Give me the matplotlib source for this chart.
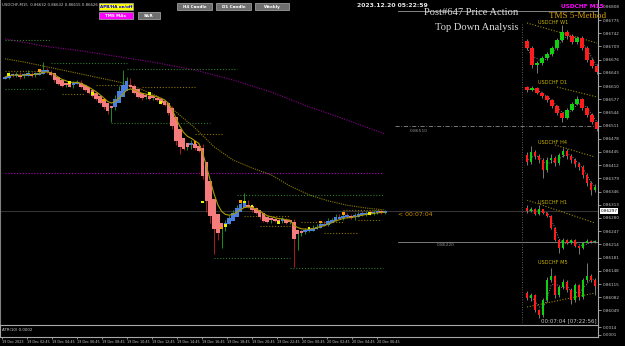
import numpy as np
import pandas as pd
import matplotlib
matplotlib.use("Agg")
import matplotlib.pyplot as plt
from matplotlib.patches import Rectangle
from matplotlib.lines import Line2D

W, H = 625, 346

# -------------------------------
# M15 main chart data (USDCHF)
# -------------------------------
first_open = 0.86630
closes = [0.86632, 0.86640, 0.86636, 0.86641, 0.86634, 0.86638, 0.86643, 0.86637, 0.86641, 0.86645,
          0.86652, 0.86648, 0.86638, 0.86627, 0.86617, 0.86612, 0.86615, 0.86610, 0.86618, 0.86620,
          0.86610, 0.86602, 0.86595, 0.86587, 0.86580, 0.86570, 0.86560, 0.86550, 0.86557, 0.86580,
          0.86600, 0.86615, 0.86625, 0.86610, 0.86595, 0.86585, 0.86582, 0.86585, 0.86580, 0.86582,
          0.86577, 0.86570, 0.86565, 0.86545, 0.86512, 0.86475, 0.86460, 0.86455, 0.86460, 0.86467,
          0.86457, 0.86450, 0.86387, 0.86325, 0.86287, 0.86255, 0.86245, 0.86255, 0.86270, 0.86282,
          0.86295, 0.86307, 0.86317, 0.86320, 0.86310, 0.86302, 0.86295, 0.86285, 0.86275, 0.86272,
          0.86277, 0.86275, 0.86272, 0.86277, 0.86270, 0.86272, 0.86230, 0.86242, 0.86245, 0.86250,
          0.86252, 0.86257, 0.86260, 0.86267, 0.86265, 0.86275, 0.86277, 0.86285, 0.86282, 0.86287,
          0.86285, 0.86282, 0.86287, 0.86292, 0.86290, 0.86295, 0.86292, 0.86295, 0.86297, 0.86295,
          0.86297]
# wick lengths in points (0.00001)
wick_up = [3, 4, 2, 5, 3, 4, 6, 3, 4, 5,
           18, 4, 3, 5, 4, 6, 3, 4, 5, 6,
           4, 3, 5, 4, 6, 3, 4, 5, 3, 8,
           10, 35, 8, 5, 4, 3, 6, 4, 3, 5,
           4, 6, 3, 5, 15, 8, 6, 4, 5, 7,
           4, 5, 15, 6, 4, 5, 3, 4, 6, 5,
           4, 5, 6, 23, 5, 4, 6, 3, 4, 5,
           4, 3, 5, 6, 4, 3, 5, 4, 6, 5,
           4, 5, 6, 4, 5, 6, 4, 5, 6, 4,
           5, 4, 6, 4, 5, 3, 4, 5, 4, 3,
           4]
wick_dn = [3, 5, 4, 3, 6, 4, 3, 5, 4, 3,
           4, 5, 3, 6, 4, 5, 4, 3, 5, 4,
           5, 4, 6, 5, 4, 6, 8, 10, 30, 6,
           4, 5, 3, 6, 5, 4, 6, 5, 4, 5,
           4, 6, 5, 8, 10, 12, 20, 6, 5, 7,
           6, 5, 10, 30, 20, 65, 20, 40, 8, 6,
           5, 4, 6, 5, 4, 6, 5, 8, 6, 5,
           4, 6, 5, 4, 6, 5, 72, 30, 8, 5,
           6, 5, 4, 6, 5, 4, 6, 5, 4, 6,
           5, 4, 6, 5, 4, 6, 5, 4, 5, 6,
           4]

# slow MA (every 5th candle) and long MA (every 10th candle)
slow_ma = [0.86678, 0.86670, 0.86660, 0.86650, 0.86640, 0.86630, 0.86620, 0.86605, 0.86585, 0.86545,
           0.86505, 0.86458, 0.86425, 0.86405, 0.86388, 0.86360, 0.86338, 0.86323, 0.86312, 0.86305,
           0.86300]
long_ma = [0.86728, 0.86710, 0.86698, 0.86683, 0.86668, 0.86650, 0.86625, 0.86595, 0.86558, 0.86525,
           0.86490]

# signal dots
sig_idx = [1, 9, 17, 23, 26, 38, 41, 50, 52, 57, 58, 62, 63, 65, 72, 80, 83, 89, 96]
sig_p = [0.86638, 0.86648, 0.86618, 0.86592, 0.86575, 0.86592, 0.86568, 0.86468, 0.86320, 0.86255,
         0.86262, 0.86322, 0.86320, 0.86310, 0.86268, 0.86255, 0.86270, 0.86292, 0.86292]
sig_kind = ["y", "o", "y", "y", "o", "y", "y", "o", "y", "o", "y", "o", "y", "y", "y", "y", "o", "o", "y"]

# support / resistance levels
lvl_price = [0.86725, 0.86667, 0.86652, 0.86602, 0.86517, 0.86338, 0.86180, 0.86155,
             0.86647, 0.86490, 0.86285, 0.86260, 0.86270, 0.86242, 0.86300, 0.86275, 0.86612, 0.86590, 0.86607,
             0.86392]
lvl_from = [0, 12, 32, 0, 28, 61, 55, 75, 0, 50, 63, 67, 78, 84, 89, 93, 24, 15, 36, 0]
lvl_to = [12, 32, 61, 10, 54, 99.5, 75, 99.5, 10, 57, 75, 75, 89, 93, 99, 99, 33, 21, 50, 99.5]
lvl_kind = ["g"] * 8 + ["o"] * 11 + ["m"]

price_ticks = np.round(0.86808 - 0.00033 * np.arange(24), 5)
time_labels = ["19 Dec 2023", "19 Dec 02:45", "19 Dec 04:45", "19 Dec 06:45", "19 Dec 08:45",
               "19 Dec 10:45", "19 Dec 12:45", "19 Dec 14:45", "19 Dec 16:45", "19 Dec 18:45",
               "19 Dec 20:45", "19 Dec 22:45", "20 Dec 00:45", "20 Dec 02:45", "20 Dec 04:45",
               "20 Dec 06:45"]

# -------------------------------
# multi-timeframe panels
# -------------------------------
w1_open0 = 0.8795
w1_c = [0.8760, 0.8675, 0.8685, 0.8710, 0.8730, 0.8760, 0.8800, 0.8840, 0.8820, 0.8790, 0.8810, 0.8760, 0.8700, 0.8670, 0.8640]
w1_h = [0.8805, 0.8768, 0.8695, 0.8718, 0.8742, 0.8770, 0.8812, 0.8875, 0.8850, 0.8828, 0.8822, 0.8818, 0.8768, 0.8710, 0.8678]
w1_l = [0.8750, 0.8660, 0.8635, 0.8675, 0.8700, 0.8722, 0.8752, 0.8792, 0.8805, 0.8780, 0.8782, 0.8752, 0.8690, 0.8660, 0.8630]

d1_open0 = 0.8714
d1_c = [0.8708, 0.8712, 0.8702, 0.8696, 0.8688, 0.8676, 0.8662, 0.8652, 0.8668, 0.8680, 0.8690, 0.8672, 0.8658, 0.8644, 0.8630]
d1_h = [0.8716, 0.8715, 0.8714, 0.8704, 0.8698, 0.8690, 0.8678, 0.8664, 0.8671, 0.8684, 0.8696, 0.8692, 0.8675, 0.8661, 0.8646]
d1_l = [0.8704, 0.8705, 0.8699, 0.8692, 0.8684, 0.8672, 0.8658, 0.8644, 0.8650, 0.8665, 0.8677, 0.8668, 0.8654, 0.8640, 0.8626]

h4_open0 = 0.8664
h4_c = [0.8657, 0.8667, 0.8663, 0.8659, 0.8649, 0.8659, 0.8661, 0.8656, 0.8664, 0.8668, 0.8663, 0.8659, 0.8655, 0.8652, 0.8644, 0.8636, 0.8629, 0.8632]
h4_h = [0.8667, 0.8673, 0.8669, 0.8665, 0.8661, 0.8662, 0.8665, 0.8663, 0.8666, 0.8671, 0.8670, 0.8665, 0.8661, 0.8657, 0.8654, 0.8646, 0.8638, 0.8635]
h4_l = [0.8654, 0.8655, 0.8660, 0.8656, 0.8641, 0.8647, 0.8656, 0.8653, 0.8654, 0.8662, 0.8660, 0.8656, 0.8652, 0.8649, 0.8641, 0.8633, 0.8624, 0.8627]

h1_open0 = 0.86475
h1_c = [0.86460, 0.86470, 0.86445, 0.86470, 0.86450, 0.86435, 0.86375, 0.86315, 0.86275, 0.86315, 0.86300, 0.86315, 0.86285, 0.86275, 0.86300, 0.86310, 0.86305, 0.86310]
h1_h = [0.86490, 0.86480, 0.86475, 0.86490, 0.86472, 0.86455, 0.86440, 0.86380, 0.86320, 0.86325, 0.86322, 0.86320, 0.86318, 0.86290, 0.86305, 0.86318, 0.86315, 0.86316]
h1_l = [0.86452, 0.86455, 0.86440, 0.86440, 0.86445, 0.86428, 0.86370, 0.86310, 0.86250, 0.86270, 0.86295, 0.86296, 0.86280, 0.86245, 0.86272, 0.86298, 0.86300, 0.86302]

m5_open0 = 0.86294
m5_c = [0.86284, 0.86290, 0.86260, 0.86250, 0.86280, 0.86320, 0.86328, 0.86290, 0.86306, 0.86316, 0.86300, 0.86280, 0.86310, 0.86286, 0.86320, 0.86328, 0.86320, 0.86308]
m5_h = [0.86298, 0.86294, 0.86292, 0.86262, 0.86284, 0.86326, 0.86344, 0.86330, 0.86310, 0.86322, 0.86320, 0.86304, 0.86314, 0.86312, 0.86324, 0.86354, 0.86332, 0.86324]
m5_l = [0.86280, 0.86278, 0.86256, 0.86244, 0.86246, 0.86276, 0.86316, 0.86284, 0.86286, 0.86302, 0.86296, 0.86272, 0.86276, 0.86280, 0.86282, 0.86316, 0.86316, 0.86290]

# MA end points per panel (candle index, value)
w1_ma = ([0, 14], [0.8885, 0.8785])
d1_ma = ([6, 14], [0.8714, 0.8694])
h4_ma = ([7, 17], [0.8674, 0.8662])
h1_ma = ([0, 17], [0.86515, 0.86400])
m5_ma = ([0, 17], [0.86266, 0.86294])

# -------------------------------
# layout helpers (pixels)
# -------------------------------
def fx(x):
    return x / W

def fy(y):
    return 1 - y / H

CANDLE_PX = 3.8
FIRST_PX = 5

fig = plt.figure(figsize=(W / 100, H / 100), dpi=100, facecolor="black")

def ftext(x, y, s, **kw):
    fig.text(fx(x), fy(y), s, **kw)

def button(x0, y0, x1, y1, label, face, tc):
    fig.patches.append(Rectangle((fx(x0), fy(y1)), (x1 - x0) / W, (y1 - y0) / H,
                                 transform=fig.transFigure, facecolor=face,
                                 edgecolor="#b0b0b0", lw=0.5))
    ftext((x0 + x1) / 2, (y0 + y1) / 2 + 0.3, label, ha="center", va="center",
          fontsize=3.0, weight="bold", color=tc)

# -------------------------------
# main M15 chart
# -------------------------------
ax = fig.add_axes([0, fy(325), fx(598), 325 / H])
ax.set_facecolor("black")
ax.set_xlim((0 - FIRST_PX) / CANDLE_PX, (598 - FIRST_PX) / CANDLE_PX)
ax.set_ylim(0.86825 - 0.000025 * 325, 0.86825)

c = np.array(closes)
bar_open = np.concatenate([[first_open], c[:-1]])
hi = np.maximum(bar_open, c) + np.array(wick_up) * 1e-5
lo = np.minimum(bar_open, c) - np.array(wick_dn) * 1e-5
# Heiken Ashi style open (smoothed)
ha_o = np.empty_like(c)
ha_o[0] = first_open
for i in range(1, len(c)):
    ha_o[i] = (ha_o[i - 1] + c[i - 1]) / 2
idx = np.arange(len(c))
up = c >= ha_o
bar_up = c >= bar_open

ax.vlines(idx, lo, hi, colors=np.where(bar_up, "#1f8f1f", "#b01a1a"), lw=0.7, zorder=2)
body_lo = np.minimum(ha_o, c)
body_h = np.maximum(np.abs(c - ha_o), 0.00005)
ax.bar(idx, body_h, bottom=body_lo - 0.000015, width=0.9,
       color=np.where(up, "#4a7fe0", "#f47c7c"), linewidth=0, zorder=3)

fast = pd.Series(closes).ewm(span=6).mean()
ax.plot(idx, fast, color="#a89a00", lw=0.8, zorder=4)
ax.plot(np.arange(0, 101, 5), slow_ma, color="#8c7c00", lw=0.8, ls=(0, (1, 1)), zorder=1)
ax.plot(np.arange(0, 101, 10), long_ma, color="#8a008a", lw=0.8, ls=(0, (1, 1.2)), zorder=1)

lvl_colors = {"g": "#2f7a2f", "o": "#8a7300", "m": "#b000c0"}
for p, a, b, k in zip(lvl_price, lvl_from, lvl_to, lvl_kind):
    ax.hlines(p, a, b, colors=lvl_colors[k], lw=0.8, linestyles=(0, (1, 1.6)), zorder=1)

sig_colors = {"y": "#e6f000", "o": "#ff9a00"}
ax.scatter(sig_idx, sig_p, c=[sig_colors[k] for k in sig_kind], marker="s", s=4,
           linewidths=0, zorder=6)

# current price line and right side lines
ax.axhline(closes[-1], color="#343434", lw=0.8, zorder=0)
ax.axhline(0.86510, xmin=395 / 598, xmax=1, color="#8a8a8a", lw=0.6, ls=(0, (5, 2, 1, 2)))
ax.axhline(0.86220, xmin=398 / 598, xmax=1, color="#7a7a7a", lw=0.7)

# price axis
ax.yaxis.tick_right()
ax.set_yticks(price_ticks)
ax.set_yticklabels([f"{t:.5f}" for t in price_ticks])
ax.tick_params(axis="y", colors="#c8c8c8", labelsize=3.0, length=2, width=0.5, pad=1.2)
ax.set_xticks([])
for s in ["top", "bottom"]:
    ax.spines[s].set_visible(False)
ax.spines["right"].set_color("#a8a8a8")
ax.spines["right"].set_linewidth(0.8)
ax.spines["left"].set_color("#808080")
ax.spines["left"].set_linewidth(0.8)
ax.text(1.004, closes[-1], f"{closes[-1]:.5f}", transform=ax.get_yaxis_transform(),
        fontsize=3.0, color="black", va="center", ha="left", clip_on=False, zorder=10,
        bbox=dict(facecolor="white", edgecolor="none", pad=0.6))

# -------------------------------
# ATR sub window + time axis
# -------------------------------
ax2 = fig.add_axes([0, fy(337), fx(598), 12 / H])
ax2.set_facecolor("black")
ax2.set_xlim(ax.get_xlim())
ax2.set_ylim(-0.0003, 0.0018)
ax2.yaxis.tick_right()
ax2.set_yticks([0.0014, 0.0001])
ax2.set_yticklabels(["0.0014", "0.0001"])
ax2.tick_params(axis="y", colors="#c8c8c8", labelsize=3.0, length=2, width=0.5, pad=1.2)
tick_pos = (2 + 25 * np.arange(len(time_labels)) - FIRST_PX) / CANDLE_PX
ax2.set_xticks(tick_pos)
ax2.set_xticklabels(time_labels, ha="left")
ax2.tick_params(axis="x", colors="#c8c8c8", labelsize=2.4, length=1.5, width=0.5, pad=1.0)
for s in ax2.spines.values():
    s.set_color("#a8a8a8")
    s.set_linewidth(0.8)
ax2.text(0.003, 0.62, "ATR(10) 0.0002", transform=ax2.transAxes, fontsize=2.8,
         color="#d0d0d0", va="center")

# -------------------------------
# multi timeframe panels on the right
# -------------------------------
panels = [
    ("USDCHF W1", w1_open0, w1_c, w1_h, w1_l, w1_ma, 20, 80, (0.8600, 0.8900), 5, 22),
    ("USDCHF D1", d1_open0, d1_c, d1_h, d1_l, d1_ma, 80, 140, (0.8608, 0.8728), 5, 82),
    ("USDCHF H4", h4_open0, h4_c, h4_h, h4_l, h4_ma, 140, 200, (0.8619, 0.8679), 4, 142),
    ("USDCHF H1", h1_open0, h1_c, h1_h, h1_l, h1_ma, 200, 258, (0.86225, 0.86515), 4, 202),
    ("USDCHF M5", m5_open0, m5_c, m5_h, m5_l, m5_ma, 260, 322, (0.86236, 0.86360), 4, 262),
]
for name, op0, pc, ph, pl, pma, ytop, ybot, ylim, sp, ylab in panels:
    axp = fig.add_axes([fx(522), fy(ybot), 76 / W, (ybot - ytop) / H])
    axp.axis("off")
    axp.set_xlim(-(527 - 522) / sp, (598 - 527) / sp)
    axp.set_ylim(*ylim)
    pc = np.array(pc)
    po = np.concatenate([[op0], pc[:-1]])
    k = np.arange(len(pc))
    pup = pc >= po
    axp.vlines(k, pl, ph, colors="#8c8c8c", lw=0.6, zorder=2)
    axp.bar(k, np.abs(pc - po), bottom=np.minimum(po, pc), width=0.65,
            color=np.where(pup, "#10d010", "#ff1c1c"), linewidth=0, zorder=3)
    trail = pd.Series(pc).rolling(3, min_periods=1).mean()
    axp.plot(k, trail, color="#b0b0b0", lw=0.6, ls=(0, (1, 2)), zorder=1)
    axp.plot(pma[0], pma[1], color="#9a8a00", lw=0.8, ls=(0, (1, 1.5)), zorder=1)
    ftext(538, ylab, name, fontsize=3.6, color="#c8b400", va="center")

# panel separator and header line
fig.lines.append(Line2D([fx(522), fx(522)], [fy(24), fy(322)], transform=fig.transFigure,
                        color="#7a7a7a", lw=0.6, ls=(0, (1, 2))))
fig.lines.append(Line2D([fx(398), fx(598)], [fy(10.7), fy(10.7)], transform=fig.transFigure,
                        color="#9a9a9a", lw=0.6))

# -------------------------------
# texts and buttons
# -------------------------------
ftext(2, 4.5, "USDCHF,M15  0.86632 0.86632 0.86615 0.86626", fontsize=2.8, color="#d0d0d0", va="center")
ftext(357, 5.5, "2023.12.20 05:22:59", fontsize=4.4, color="#e8e8e8", weight="bold", va="center")
ftext(604, 6, "USDCHF M15", fontsize=4.2, color="#ff00ff", weight="bold", va="center", ha="right")
ftext(471, 12.5, "Post#647 Price Action", fontsize=7.6, color="#dcdcdc", family="Liberation Serif",
      va="center", ha="center")
ftext(477, 27, "Top Down Analysis", fontsize=7.6, color="#dcdcdc", family="Liberation Serif",
      va="center", ha="center")
ftext(578, 16, "TMS 5-Method", fontsize=6.6, color="#d8a000", family="Liberation Serif",
      va="center", ha="center")
ftext(398, 214, "< 00:07:04", fontsize=4.4, color="#d09000", va="center")
ftext(410, 130.5, "0.86510", fontsize=3.2, color="#909090", va="center")
ftext(437, 245.5, "0.86220", fontsize=3.2, color="#909090", va="center")
ftext(597, 321, "00:07:04 [07:22:56]", fontsize=4.0, color="#c8c8c8", va="center", ha="right")

button(99, 3, 133, 10, "APB/HA on/off", "#ffff00", "#0000ff")
button(99, 12, 133, 18.5, "TMS MAs", "#ff00ff", "#ffffff")
button(138, 12, 160, 18.5, "S&R", "#6e6e6e", "#ffffff")
button(177, 3, 212, 9.5, "H4 Candle", "#6e6e6e", "#ffffff")
button(216, 3, 251, 9.5, "D1 Candle", "#6e6e6e", "#ffffff")
button(255, 3, 289, 9.5, "Weekly", "#6e6e6e", "#ffffff")

fig.savefig("out.png", dpi=100, facecolor="black")
